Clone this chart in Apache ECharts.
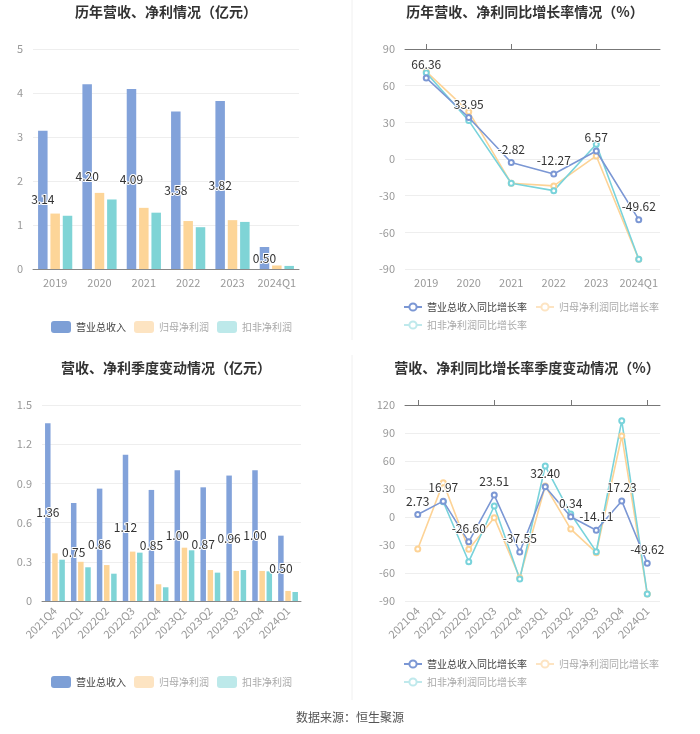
<!DOCTYPE html>
<html><head><meta charset="utf-8">
<script src="https://cdn.jsdelivr.net/npm/echarts@6/dist/echarts.min.js"></script>
<style>html,body{margin:0;padding:0;background:#fff}#c{width:700px;height:734px}</style>
</head><body><div id="c"></div>
<script>
const years = ['2019','2020','2021','2022','2023','2024Q1'];
const yearRevenue = [3.14,4.20,4.09,3.58,3.82,0.50];
const yearParentProfit = [1.26,1.73,1.39,1.09,1.11,0.08];
const yearDeductedProfit = [1.21,1.58,1.28,0.95,1.07,0.07];
const yearRevenueGrowth = [66.36,33.95,-2.82,-12.27,6.57,-49.62];
const yearParentGrowth = [71.5,38.7,-19.9,-22.0,2.5,-82.0];
const yearDeductedGrowth = [70.6,31.4,-19.9,-25.9,12.0,-82.1];

const quarters = ['2021Q4','2022Q1','2022Q2','2022Q3','2022Q4','2023Q1','2023Q2','2023Q3','2023Q4','2024Q1'];
const qRevenue = [1.36,0.75,0.86,1.12,0.85,1.00,0.87,0.96,1.00,0.50];
const qParentProfit = [0.365,0.30,0.275,0.378,0.128,0.408,0.237,0.23,0.23,0.077];
const qDeductedProfit = [0.316,0.258,0.209,0.37,0.105,0.388,0.217,0.237,0.227,0.069];
const qRevenueGrowth = [2.73,16.97,-26.60,23.51,-37.55,32.40,0.34,-14.11,17.23,-49.62];
const qParentGrowth = [-34.3,36.8,-34.6,-0.7,-65.0,33.2,-12.9,-38.2,86.8,-82.5];
const qDeductedGrowth = [null,16.4,-47.9,11.8,-66.4,54.6,3.2,-37.1,103.2,-82.5];

const titles = ['历年营收、净利情况（亿元）','历年营收、净利同比增长率情况（%）','营收、净利季度变动情况（亿元）','营收、净利同比增长率季度变动情况（%）'];
const barNames = ['营业总收入','归母净利润','扣非净利润'];
const lineNames = ['营业总收入同比增长率','归母净利润同比增长率','扣非净利润同比增长率'];
const source = '数据来源：恒生聚源';

const FONT = '"Noto Sans CJK SC","Noto Sans",sans-serif';
const BLUE = '#82a2da', ORANGE = '#fdd598', TEAL = '#7fd4d6';
const LBLUE = '#7b97d4', LORANGE = '#fdd396', LTEAL = '#79d3db';

const chart = echarts.init(document.getElementById('c'));

const labelStyle = {color:'#333', fontSize:12, fontFamily:FONT, textBorderColor:'#fff', textBorderWidth:2};
const fmt = p => (p.value == null ? '' : Number(p.value).toFixed(2));

const grids = [
  {left:33, top:49, width:266, height:220},
  {left:405, top:49, width:255, height:220},
  {left:42, top:405, width:259, height:196},
  {left:405, top:405, width:255, height:196}
];

function catAxis(gi, data, rotate, opts) {
  return Object.assign({
    type:'category', gridIndex:gi, data:data, boundaryGap:true,
    axisLine:{show:true, lineStyle:{color:'#888'}},
    axisTick:{show:false},
    axisLabel:{color:'#999', fontSize:11, fontFamily:FONT, rotate:rotate, margin:8, interval:0}
  }, opts || {});
}
function valAxis(gi, min, max, interval) {
  return {
    type:'value', gridIndex:gi, min:min, max:max, interval:interval,
    axisLine:{show:false}, axisTick:{show:false},
    axisLabel:{color:'#999', fontSize:11, fontFamily:FONT, margin:10},
    splitLine:{lineStyle:{color:'#eee'}}
  };
}

const xAxes = [
  catAxis(0, years, 0),
  catAxis(1, years, 0, {axisLine:{show:false}}),
  catAxis(1, years, 0, {axisLine:{show:true, onZero:true, lineStyle:{color:'#777'}}, axisTick:{show:true, alignWithLabel:true, lineStyle:{color:'#777'}}, axisLabel:{show:false}}),
  catAxis(2, quarters, 45),
  catAxis(3, quarters, 45, {axisLine:{show:false}}),
  catAxis(3, quarters, 45, {axisLine:{show:true, onZero:true, lineStyle:{color:'#777'}}, axisTick:{show:true, alignWithLabel:true, lineStyle:{color:'#777'}}, axisLabel:{show:false}})
];
const yAxes = [
  valAxis(0, 0, 5, 1),
  valAxis(1, -90, 90, 30),
  valAxis(2, 0, 1.5, 0.3),
  valAxis(3, -90, 120, 30)
];

function bar(name, data, color, xi, yi, label, w) {
  return {type:'bar', name:name, data:data, xAxisIndex:xi, yAxisIndex:yi, barWidth:w, barGap:'30%',
    itemStyle:{color:color},
    label: label ? Object.assign({show:true, position:'inside', formatter:fmt}, labelStyle) : {show:false}};
}
function line(name, data, color, xi, yi, label) {
  return {type:'line', name:name, data:data, xAxisIndex:xi, yAxisIndex:yi,
    symbol:'emptyCircle', symbolSize:5, connectNulls:false,
    lineStyle:{color:color, width:1.6}, itemStyle:{color:color},
    label: label ? Object.assign({show:true, position:'top', distance:4, formatter:fmt}, labelStyle) : {show:false}};
}

const series = [
  bar(barNames[0], yearRevenue, BLUE, 0, 0, true, 9.5),
  bar(barNames[1], yearParentProfit, ORANGE, 0, 0, false, 9.5),
  bar(barNames[2], yearDeductedProfit, TEAL, 0, 0, false, 9.5),
  line(lineNames[0], yearRevenueGrowth, LBLUE, 1, 1, true),
  line(lineNames[1], yearParentGrowth, LORANGE, 1, 1, false),
  line(lineNames[2], yearDeductedGrowth, LTEAL, 1, 1, false),
  bar(barNames[0], qRevenue, BLUE, 3, 2, true, 5.5),
  bar(barNames[1], qParentProfit, ORANGE, 3, 2, false, 5.5),
  bar(barNames[2], qDeductedProfit, TEAL, 3, 2, false, 5.5),
  line(lineNames[0], qRevenueGrowth, LBLUE, 4, 3, true),
  line(lineNames[1], qParentGrowth, LORANGE, 4, 3, false),
  line(lineNames[2], qDeductedGrowth, LTEAL, 4, 3, false)
];
series[0].z = 3; series[3].z = 5; series[6].z = 3; series[9].z = 5;

const legTxt = (c) => ({color:c, fontSize:10, fontFamily:FONT});
function barLegend(top, left) {
  return {left:left, top:top, itemWidth:20, itemHeight:12, itemGap:8, selectedMode:false,
    textStyle:legTxt('#999'),
    data:[
      {name:barNames[0], itemStyle:{color:'#7d9fd6'}, textStyle:legTxt('#444')},
      {name:barNames[1], itemStyle:{color:'#fde4c2'}, textStyle:legTxt('#aaa')},
      {name:barNames[2], itemStyle:{color:'#bde9ea'}, textStyle:legTxt('#aaa')}
    ]};
}
function lineLegend(top, left) {
  return {left:left, top:top, width:262, itemWidth:18, itemHeight:9, itemGap:8, selectedMode:false,
    textStyle:legTxt('#999'),
    data:[
      {name:lineNames[0], itemStyle:{color:'#7b97d4'}, lineStyle:{color:'#7b97d4'}, textStyle:legTxt('#444')},
      {name:lineNames[1], itemStyle:{color:'#fde4c2'}, lineStyle:{color:'#fde4c2'}, textStyle:legTxt('#aaa')},
      {name:lineNames[2], itemStyle:{color:'#bfe9ec'}, lineStyle:{color:'#bfe9ec'}, textStyle:legTxt('#aaa')}
    ]};
}

const titleText = (x, y, t) => ({type:'text', x:x, y:y,
  style:{text:t, fill:'#333', font:'bold 14px ' + FONT, textAlign:'center', textVerticalAlign:'middle'}});

chart.setOption({
  animation:false,
  grid: grids,
  xAxis: xAxes,
  yAxis: yAxes,
  series: series,
  legend: [barLegend(316, 46), lineLegend(297, 398), barLegend(671, 46), lineLegend(654, 398)],
  graphic: [
    titleText(166, 12, titles[0]),
    titleText(525, 12, titles[1]),
    titleText(166, 368, titles[2]),
    titleText(527, 368, titles[3]),
    {type:'line', shape:{x1:352, y1:0, x2:352, y2:340}, style:{stroke:'#f0f0f0', lineWidth:1}},
    {type:'line', shape:{x1:352, y1:355, x2:352, y2:700}, style:{stroke:'#f0f0f0', lineWidth:1}},
    {type:'text', x:350, y:717, style:{text:source, fill:'#555', font:'12px ' + FONT, textAlign:'center', textVerticalAlign:'middle'}}
  ]
});
</script>
</body></html>
